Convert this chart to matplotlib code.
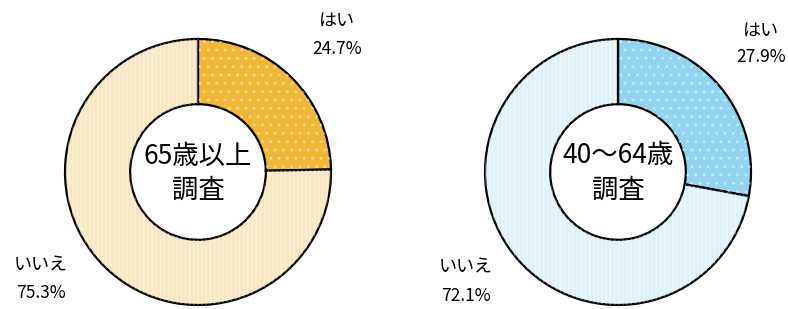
import matplotlib
matplotlib.use("Agg")
import matplotlib.pyplot as plt

plt.rcParams['font.family'] = ['Noto Sans CJK JP', 'DejaVu Sans']
plt.rcParams['hatch.linewidth'] = 1.0

categories = ["はい", "いいえ"]
values_65 = [24.7, 75.3]
values_40 = [27.9, 72.1]
titles = ["65歳以上\n調査", "40～64歳\n調査"]
colors_65 = ["#F0B836", "#F7E7C2"]
colors_40 = ["#92D3F0", "#E0F2F9"]

W, H = 788, 309
fig = plt.figure(figsize=(W / 100, H / 100), dpi=100)
ax = fig.add_axes([0, 0, 1, 1])

R = 133
centers = [(198, H - 172), (618, H - 172)]

def draw(vals, cols, center, title):
    ax.pie(vals, colors=cols, startangle=90, counterclock=False,
           radius=R, center=center, frame=True,
           wedgeprops=dict(width=R * 0.49, edgecolor='black', linewidth=1.6))
    over, _ = ax.pie(vals, colors=['none', 'none'], startangle=90, counterclock=False,
                     radius=R, center=center, frame=True,
                     wedgeprops=dict(width=R * 0.49, linewidth=0))
    over[0].set_hatch('..')
    over[0].set_edgecolor((1, 1, 1, 0.35))
    over[1].set_hatch('||||')
    over[1].set_edgecolor((1, 1, 1, 0.35))
    ax.text(center[0], center[1] - 1, title, ha='center', va='center',
            fontsize=19, linespacing=1.35)

draw(values_65, colors_65, centers[0], titles[0])
draw(values_40, colors_40, centers[1], titles[1])
ax.set_xlim(0, W)
ax.set_ylim(0, H)
ax.set_aspect('equal')
ax.axis('off')

def label(x, y1, y2, cat, val):
    ax.text(x, H - y1, cat, ha='center', va='center', fontsize=13)
    ax.text(x, H - y2, f"{val:.1f}%", ha='center', va='center', fontsize=12.5)

label(337, 21, 49, categories[0], values_65[0])
label(41, 266, 293, categories[1], values_65[1])
label(761, 31, 57, categories[0], values_40[0])
label(466, 268, 296, categories[1], values_40[1])

fig.savefig("out.png", dpi=100)
